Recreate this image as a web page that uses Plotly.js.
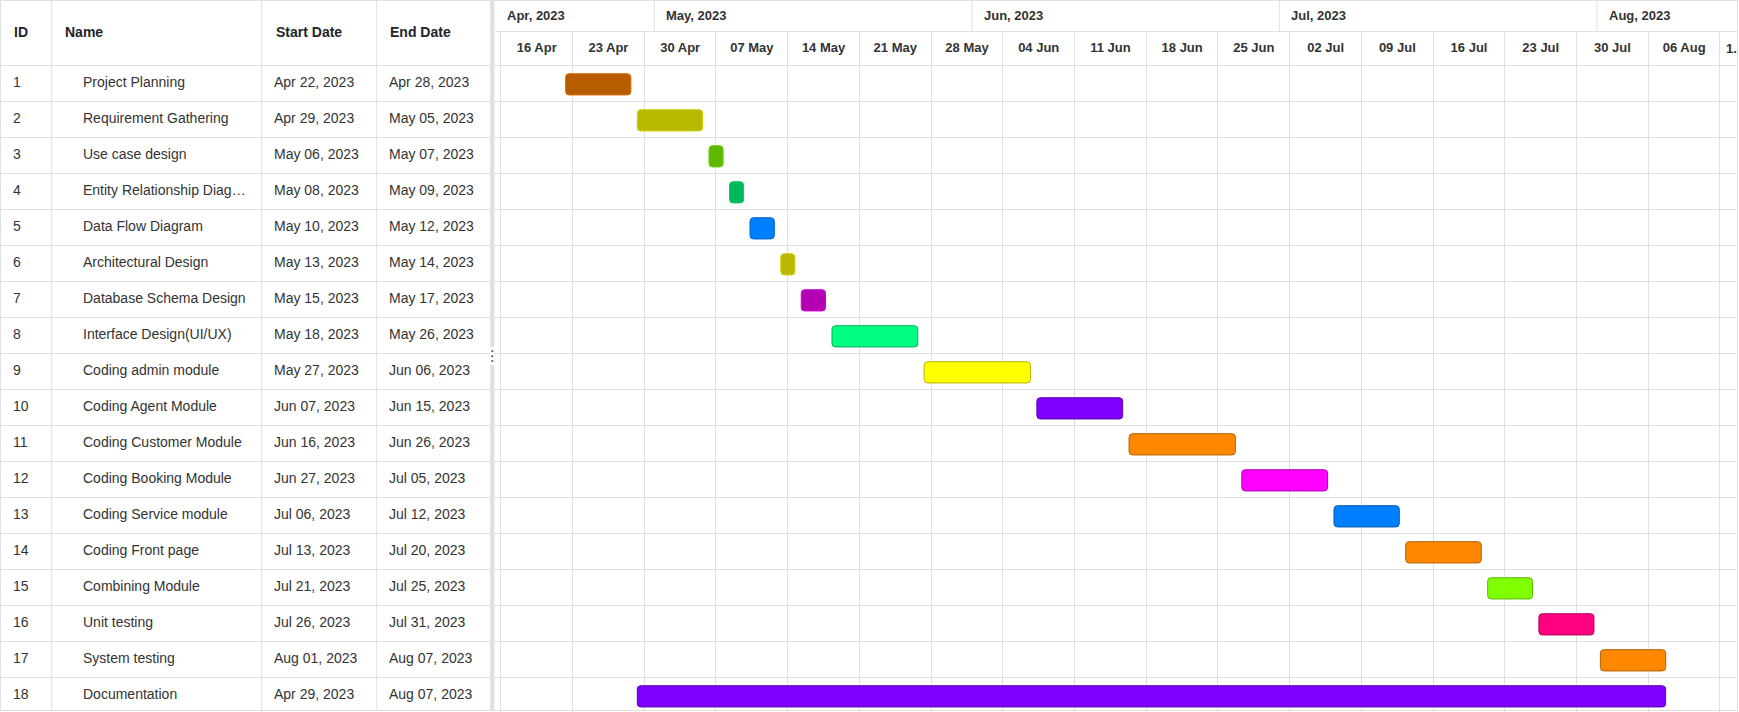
<!DOCTYPE html>
<html>
<head>
<meta charset="utf-8">
<script src="https://cdn.plot.ly/plotly-3.0.1.min.js"></script>
<style>
  html, body { margin: 0; padding: 0; background: #ffffff; }
  #chart { width: 1739px; height: 712px; }
</style>
</head>
<body>
<div id="chart"></div>
<script>
// ---------------- DATA ----------------
const taskIds = [1, 2, 3, 4, 5, 6, 7, 8, 9, 10, 11, 12, 13, 14, 15, 16, 17, 18];
const taskNames = [
  "Project Planning", "Requirement Gathering", "Use case design", "Entity Relationship Diagram",
  "Data Flow Diagram", "Architectural Design", "Database Schema Design", "Interface Design(UI/UX)",
  "Coding admin module", "Coding Agent Module", "Coding Customer Module", "Coding Booking Module",
  "Coding Service module", "Coding Front page", "Combining Module", "Unit testing",
  "System testing", "Documentation"
];
const startDates = [
  "2023-04-22", "2023-04-29", "2023-05-06", "2023-05-08", "2023-05-10", "2023-05-13",
  "2023-05-15", "2023-05-18", "2023-05-27", "2023-06-07", "2023-06-16", "2023-06-27",
  "2023-07-06", "2023-07-13", "2023-07-21", "2023-07-26", "2023-08-01", "2023-04-29"
];
const endDates = [
  "2023-04-28", "2023-05-05", "2023-05-07", "2023-05-09", "2023-05-12", "2023-05-14",
  "2023-05-17", "2023-05-26", "2023-06-06", "2023-06-15", "2023-06-26", "2023-07-05",
  "2023-07-12", "2023-07-20", "2023-07-25", "2023-07-31", "2023-08-07", "2023-08-07"
];
const barColors = [
  "#b85c00", "#b8b800", "#5cb800", "#00b85c", "#0080ff", "#b8b800", "#b300b3", "#00ff80", "#ffff00",
  "#8000ff", "#ff8800", "#ff00ff", "#0080ff", "#ff8800", "#80ff00", "#ff0080", "#ff8800", "#8000ff"
];
const barBorders = [
  "#d96c00", "#d0d000", "#66cc00", "#00cc66", "#0066cc", "#d0d000", "#cc00cc", "#00b35a", "#b3b300",
  "#5c00b3", "#b35f00", "#b300b3", "#005cb8", "#b35f00", "#5cb800", "#b3005a", "#b35f00", "#5c00b3"
];
const monthStarts = ["2023-04-01", "2023-05-01", "2023-06-01", "2023-07-01", "2023-08-01"];
const monthLabels = ["Apr, 2023", "May, 2023", "Jun, 2023", "Jul, 2023", "Aug, 2023"];
const columnHeaders = ["ID", "Name", "Start Date", "End Date"];

// ---------------- HELPERS ----------------
const MONTHS = ["Jan","Feb","Mar","Apr","May","Jun","Jul","Aug","Sep","Oct","Nov","Dec"];
function fmtDate(s) {
  const p = s.split("-");
  return MONTHS[parseInt(p[1], 10) - 1] + " " + p[2] + ", " + p[0];
}
function clipName(s) { return s.length > 24 ? s.slice(0, 24) + "\u2026" : s; }

const W = 1739, H = 712;
const FONT = "Liberation Sans, Arial, sans-serif";
const GRID = "#e0e0e0";
const splitL = 490, splitR = 494.5, chartR = 1737;
const topBand = 32;                 // month row height (px)
const rangeStart = "2023-04-15 09:28";
const rangeEnd = "2023-08-14 16:05";
const halfWeekPx = 36;              // half of one week column (px)

const bases = startDates.map(d => d + " 08:00");
const durations = startDates.map((d, i) =>
  Date.parse(endDates[i] + "T17:00:00Z") - Date.parse(d + "T08:00:00Z"));

// ---------------- TRACES ----------------
const barTrace = {
  type: "bar", orientation: "h",
  y: taskIds, base: bases, x: durations,
  xaxis: "x", yaxis: "y",
  width: 0.59, offset: -0.258,
  marker: { color: barColors, line: { color: barBorders, width: 1 }, cornerradius: 4 },
  hoverinfo: "skip", showlegend: false
};

function textCol(xpx, texts) {
  return {
    type: "scatter", mode: "text", xaxis: "x2", yaxis: "y",
    x: taskIds.map(() => xpx), y: taskIds, text: texts,
    textposition: "middle right", cliponaxis: false,
    textfont: { family: FONT, size: 14, color: "#333333" },
    hoverinfo: "skip", showlegend: false
  };
}
const traces = [
  barTrace,
  textCol(13, taskIds.map(String)),
  textCol(83, taskNames.map(clipName)),
  textCol(274, startDates.map(fmtDate)),
  textCol(389, endDates.map(fmtDate))
];

// ---------------- LAYOUT ----------------
const px = v => v / W;
const py = v => (H - v) / H;      // pixel from top -> paper y

const shapes = [];
// table column separators
[51.7, 261.7, 376.7].forEach(x => shapes.push({
  type: "line", xref: "paper", yref: "paper", x0: px(x), x1: px(x), y0: py(710.5), y1: 1,
  line: { color: GRID, width: 1 }
}));
// month separators in top row
monthStarts.forEach(m => {
  if (Date.parse(m) > Date.parse(rangeStart.replace(" ", "T"))) {
    shapes.push({ type: "line", xref: "x", yref: "paper", x0: m, x1: m, y0: py(topBand), y1: 1,
      line: { color: GRID, width: 1 } });
  }
});
// outer border
shapes.push({ type: "rect", xref: "paper", yref: "paper", x0: px(0.5), x1: px(chartR + 0.5),
  y0: py(710.5), y1: py(0.5), line: { color: GRID, width: 1 }, fillcolor: "rgba(0,0,0,0)" });
// splitter
shapes.push({ type: "rect", xref: "paper", yref: "paper", x0: px(splitL), x1: px(splitR),
  y0: py(710.5), y1: 1, line: { width: 0 }, fillcolor: "#dee2e6", layer: "above" });
shapes.push({ type: "rect", xref: "paper", yref: "paper", x0: px(splitL), x1: px(splitR),
  y0: py(365), y1: py(346.7), line: { width: 0 }, fillcolor: "#ffffff", layer: "above" });
[351.3, 356.3, 361].forEach(y => shapes.push({
  type: "circle", xref: "paper", yref: "paper", x0: px(491.3), x1: px(493.3), y0: py(y + 1), y1: py(y - 1),
  line: { width: 0 }, fillcolor: "#444444", layer: "above"
}));

const annotations = [];
const hdrX = [12, 63, 274, 388];
columnHeaders.forEach((t, i) => annotations.push({
  text: t, xref: "paper", yref: "paper", x: px(hdrX[i]), y: py(32.3),
  xanchor: "left", yanchor: "middle", showarrow: false,
  font: { family: FONT, size: 14, color: "#212529", weight: "bold" }
}));
monthStarts.forEach((m, i) => {
  const inRange = Date.parse(m) > Date.parse(rangeStart.replace(" ", "T"));
  annotations.push({
    text: monthLabels[i], xref: "x", yref: "paper", x: inRange ? m : rangeStart, y: py(15.7),
    xanchor: "left", yanchor: "middle", xshift: 10, showarrow: false,
    font: { family: FONT, size: 13, color: "#333333", weight: "bold" }
  });
});
// clipped label of the last (partially visible) week
annotations.push({
  text: "1.", xref: "x", yref: "paper", x: "2023-08-13", y: py(48.5),
  xanchor: "left", yanchor: "middle", xshift: 4, showarrow: false,
  font: { family: FONT, size: 13, color: "#333333", weight: "bold" }
});

const layout = {
  width: W, height: H,
  margin: { l: 0, r: 0, t: 0, b: 0, pad: 0 },
  paper_bgcolor: "#ffffff", plot_bgcolor: "#ffffff",
  showlegend: false, bargap: 0,
  xaxis: {
    type: "date", domain: [px(splitR), px(chartR)], range: [rangeStart, rangeEnd],
    anchor: "y", side: "top",
    tick0: "2023-04-16", dtick: 7 * 86400000, tickformat: "%d %b",
    ticklabelposition: "outside", ticks: "",
    ticklabelstandoff: -26, ticklabelshift: halfWeekPx,
    ticklabeloverflow: "hide past domain",
    tickfont: { family: FONT, size: 13, color: "#333333", weight: "bold" },
    showgrid: true, gridcolor: GRID, gridwidth: 1, zeroline: false,
    showline: true, linecolor: GRID, linewidth: 1, fixedrange: true
  },
  xaxis2: {
    domain: [0, px(splitL)], range: [0, splitL], anchor: "y",
    showgrid: false, zeroline: false, showline: false, showticklabels: false, ticks: "",
    fixedrange: true
  },
  yaxis: {
    domain: [0, py(topBand)], range: [18.4722, -0.41667],
    tickvals: taskIds.map(i => i - 0.5), showticklabels: false, ticks: "",
    showgrid: true, gridcolor: GRID, gridwidth: 1, zeroline: false, showline: false,
    fixedrange: true
  },
  shapes: shapes,
  annotations: annotations
};

Plotly.newPlot("chart", traces, layout, { displayModeBar: false, staticPlot: true });
</script>
</body>
</html>
